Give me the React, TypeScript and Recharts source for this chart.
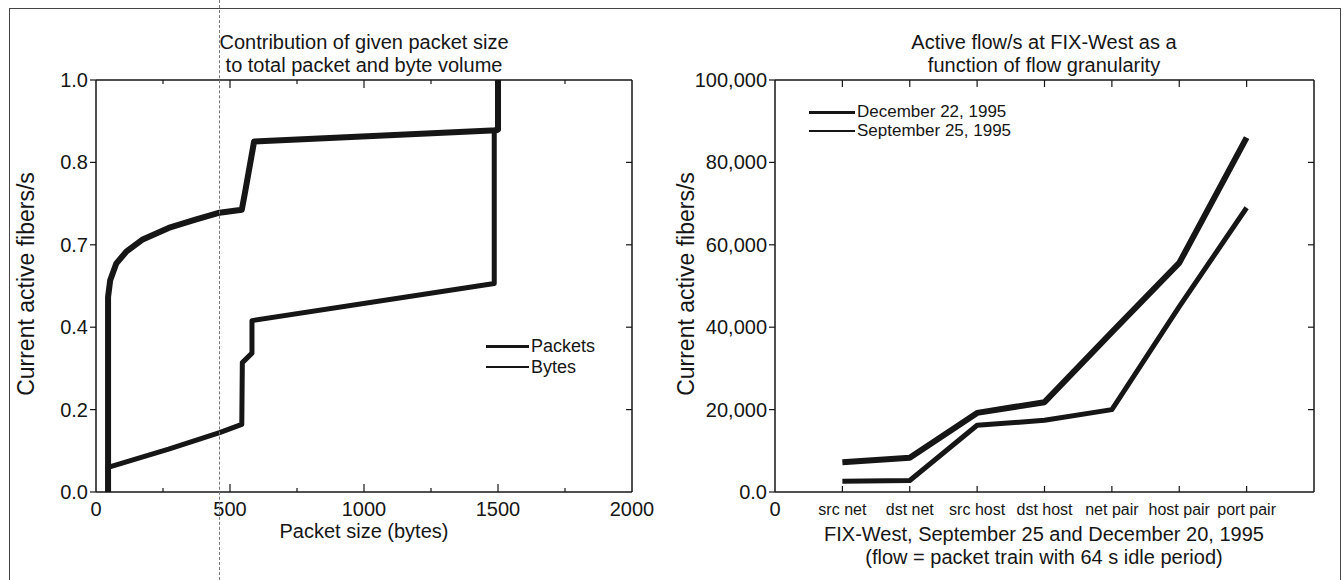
import React from 'react';
import { LineChart, Line, XAxis, YAxis } from 'recharts';

const FONT = '"Liberation Sans", Arial, sans-serif';
const INK = '#161616';

// left panel: cumulative share by packet size
const packetSizes = [45, 45, 53, 76, 114, 172, 271, 371, 461, 544, 556, 590, 1495, 1500, 1500];
const packetShare = [0, 0.473, 0.514, 0.555, 0.584, 0.612, 0.641, 0.661, 0.678, 0.685, 0.727, 0.851, 0.878, 0.88, 1.0];
const byteSizes = [45, 45, 271, 461, 544, 546, 582, 582, 1486, 1486, 1500, 1500];
const byteShare = [0, 0.06, 0.104, 0.144, 0.164, 0.314, 0.337, 0.416, 0.506, 0.878, 0.88, 1.0];

const sizeTicks = [0, 250, 500, 750, 1000, 1250, 1500, 1750, 2000];
const shareTicks = [0, 0.2, 0.4, 0.6, 0.8, 1.0];
const shareLabels = ['0.0', '0.2', '0.4', '0.7', '0.8', '1.0'];

// right panel: active flows per granularity
const granularity = ['src net', 'dst net', 'src host', 'dst host', 'net pair', 'host pair', 'port pair'];
const dec22 = [7200, 8300, 19200, 21800, 38800, 55600, 86000];
const sep25 = [2600, 2800, 16200, 17400, 20000, 45000, 69000];
const flowTicks = [0, 20000, 40000, 60000, 80000, 100000];
const flowLabels = ['0.0', '20,000', '40,000', '60,000', '80,000', '100,000'];
const granTicks = [0, 1, 2, 3, 4, 5, 6, 7];

const packetsData = packetSizes.map((s, i) => ({ size: s, share: packetShare[i] }));
const bytesData = byteSizes.map((s, i) => ({ size: s, share: byteShare[i] }));
const flowData = granularity.map((g, i) => ({ pos: i + 1, dec: dec22[i], sep: sep25[i] }));

const txt = { fontFamily: FONT, fill: INK };

function SizeBottomTick(props: any) {
  const { x, y, payload } = props;
  const v = payload.value;
  const major = v % 500 === 0;
  return (
    <g>
      {v > 0 && v < 2000 && <line x1={x} x2={x} y1={y} y2={y - (major ? 8 : 4)} stroke={INK} strokeWidth={1.2} />}
      {major && (
        <text x={x} y={y + 24} textAnchor="middle" fontSize={20} {...txt}>{v}</text>
      )}
    </g>
  );
}

function SizeTopTick(props: any) {
  const { x, y, payload } = props;
  const v = payload.value;
  if (v <= 0 || v >= 2000) return <g />;
  return <line x1={x} x2={x} y1={y} y2={y + (v % 500 === 0 ? 8 : 4)} stroke={INK} strokeWidth={1.2} />;
}

function ShareLeftTick(props: any) {
  const { x, y, payload } = props;
  const i = shareTicks.indexOf(payload.value);
  return (
    <g>
      <line x1={x} x2={x - 6} y1={y} y2={y} stroke={INK} strokeWidth={1.2} />
      <text x={x - 8} y={y + 7} textAnchor="end" fontSize={20} {...txt}>{shareLabels[i]}</text>
    </g>
  );
}

function InwardRightTick(props: any) {
  const { x, y } = props;
  return <line x1={x} x2={x - 6} y1={y} y2={y} stroke={INK} strokeWidth={1.2} />;
}

function GranBottomTick(props: any) {
  const { x, y, payload } = props;
  const v = payload.value;
  if (v === 0) {
    return <text x={x} y={y + 24} textAnchor="middle" fontSize={20} {...txt}>0</text>;
  }
  return (
    <g>
      <line x1={x} x2={x} y1={y} y2={y - 6} stroke={INK} strokeWidth={1.2} />
      <text x={x} y={y + 23} textAnchor="middle" fontSize={16} {...txt}>{granularity[v - 1]}</text>
    </g>
  );
}

function GranTopTick(props: any) {
  const { x, y, payload } = props;
  if (payload.value === 0) return <g />;
  return <line x1={x} x2={x} y1={y} y2={y + 7} stroke={INK} strokeWidth={1.2} />;
}

function FlowLeftTick(props: any) {
  const { x, y, payload } = props;
  const i = flowTicks.indexOf(payload.value);
  return (
    <g>
      <line x1={x} x2={x - 6} y1={y} y2={y} stroke={INK} strokeWidth={1.2} />
      <text x={x - 8} y={y + 7} textAnchor="end" fontSize={20} {...txt}>{flowLabels[i]}</text>
    </g>
  );
}

const axisLine = { stroke: INK, strokeWidth: 1.5 };

// one centred line of text, cy = vertical centre
function Caption({ cx, cy, size = 20, children }: any) {
  return (
    <div
      style={{
        position: 'absolute', left: cx - 300, top: cy - 11, width: 600, height: 22, fontSize: size, lineHeight: '22px',
        textAlign: 'center', color: INK, fontFamily: FONT, whiteSpace: 'nowrap',
      }}
    >
      {children}
    </div>
  );
}

function YTitle({ cx, cy }: { cx: number; cy: number }) {
  return (
    <div
      style={{
        position: 'absolute', left: cx - 150, top: cy - 13, width: 300, textAlign: 'center',
        fontSize: 23, lineHeight: '26px', color: INK, fontFamily: FONT,
        transform: 'rotate(-90deg)', transformOrigin: '50% 50%',
      }}
    >
      Current active fibers/s
    </div>
  );
}

function LegendRow({ left, cy, width, thick, label, size }: any) {
  return (
    <div style={{ position: 'absolute', left, top: cy - 9, display: 'flex', alignItems: 'center', height: 18 }}>
      <div style={{ width, height: thick, background: INK }} />
      <span style={{ marginLeft: 2, fontSize: size, lineHeight: '18px', fontFamily: FONT, color: INK, whiteSpace: 'nowrap' }}>{label}</span>
    </div>
  );
}

export default function App() {
  return (
    <div style={{ position: 'absolute', left: 0, top: 0, width: 1344, height: 580, background: '#fff', overflow: 'hidden' }}>
      {/* page frame */}
      <div style={{ position: 'absolute', left: 9, top: 8, width: 1330, height: 580, borderTop: '1px solid #444', borderLeft: '1px solid #444', borderRight: '1px solid #444' }} />

      {/* left panel */}
      <Caption cx={364} cy={42}>Contribution of given packet size</Caption>
      <Caption cx={364} cy={65}>to total packet and byte volume</Caption>
      <YTitle cx={26} cy={284} />
      <Caption cx={364} cy={531}>Packet size (bytes)</Caption>
      <div style={{ position: 'absolute', left: 0, top: 0 }}>
        <LineChart width={660} height={580} margin={{ top: 79, right: 27, bottom: 58, left: 0 }}>
          <XAxis xAxisId="b" dataKey="size" type="number" domain={[0, 2000]} ticks={sizeTicks} interval={0}
            allowDataOverflow tickLine={false} tickSize={0} tickMargin={0} height={30} axisLine={axisLine} tick={SizeBottomTick} />
          <XAxis xAxisId="t" orientation="top" dataKey="size" type="number" domain={[0, 2000]} ticks={sizeTicks} interval={0}
            allowDataOverflow tickLine={false} tickSize={0} tickMargin={0} height={1} axisLine={axisLine} tick={SizeTopTick} />
          <YAxis yAxisId="l" type="number" domain={[0, 1]} ticks={shareTicks} interval={0} allowDataOverflow
            tickLine={false} tickSize={0} tickMargin={0} width={96} axisLine={axisLine} tick={ShareLeftTick} />
          <YAxis yAxisId="r" orientation="right" type="number" domain={[0, 1]} ticks={shareTicks.slice(1, 5)} interval={0}
            allowDataOverflow tickLine={false} tickSize={0} tickMargin={0} width={1} axisLine={axisLine} tick={InwardRightTick} />
          <Line xAxisId="b" yAxisId="l" data={packetsData} dataKey="share" type="linear" stroke={INK} strokeWidth={6}
            dot={false} isAnimationActive={false} strokeLinejoin="round" />
          <Line xAxisId="b" yAxisId="l" data={bytesData} dataKey="share" type="linear" stroke={INK} strokeWidth={5}
            dot={false} isAnimationActive={false} strokeLinejoin="round" />
        </LineChart>
      </div>
      <LegendRow left={486} cy={346} width={43} thick={3} label="Packets" size={18} />
      <LegendRow left={486} cy={367} width={43} thick={2} label="Bytes" size={18} />

      {/* scan artefact */}
      <div style={{ position: 'absolute', left: 219, top: 0, height: 580, borderLeft: '1px dashed #777' }} />

      {/* right panel */}
      <Caption cx={1044} cy={42}>Active flow/s at FIX-West as a</Caption>
      <Caption cx={1044} cy={65}>function of flow granularity</Caption>
      <YTitle cx={686} cy={284} />
      <Caption cx={1044} cy={534}>FIX-West, September 25 and December 20, 1995</Caption>
      <Caption cx={1044} cy={557}>(flow = packet train with 64 s idle period)</Caption>
      <div style={{ position: 'absolute', left: 680, top: 0 }}>
        <LineChart width={664} height={580} data={flowData} margin={{ top: 79, right: 29, bottom: 58, left: 0 }}>
          <XAxis xAxisId="b" dataKey="pos" type="number" domain={[0, 8]} ticks={granTicks} interval={0}
            allowDataOverflow tickLine={false} tickSize={0} tickMargin={0} height={30} axisLine={axisLine} tick={GranBottomTick} />
          <XAxis xAxisId="t" orientation="top" dataKey="pos" type="number" domain={[0, 8]} ticks={granTicks} interval={0}
            allowDataOverflow tickLine={false} tickSize={0} tickMargin={0} height={1} axisLine={axisLine} tick={GranTopTick} />
          <YAxis yAxisId="l" type="number" domain={[0, 100000]} ticks={flowTicks} interval={0} allowDataOverflow
            tickLine={false} tickSize={0} tickMargin={0} width={95} axisLine={axisLine} tick={FlowLeftTick} />
          <YAxis yAxisId="r" orientation="right" type="number" domain={[0, 100000]} ticks={flowTicks.slice(1, 5)} interval={0}
            allowDataOverflow tickLine={false} tickSize={0} tickMargin={0} width={1} axisLine={axisLine} tick={InwardRightTick} />
          <Line xAxisId="b" yAxisId="l" dataKey="dec" type="linear" stroke={INK} strokeWidth={6}
            dot={false} isAnimationActive={false} strokeLinejoin="round" />
          <Line xAxisId="b" yAxisId="l" dataKey="sep" type="linear" stroke={INK} strokeWidth={5}
            dot={false} isAnimationActive={false} strokeLinejoin="round" />
        </LineChart>
      </div>
      <LegendRow left={809} cy={112} width={46} thick={3} label="December 22, 1995" size={17} />
      <LegendRow left={809} cy={131} width={46} thick={2} label="September 25, 1995" size={17} />
    </div>
  );
}
